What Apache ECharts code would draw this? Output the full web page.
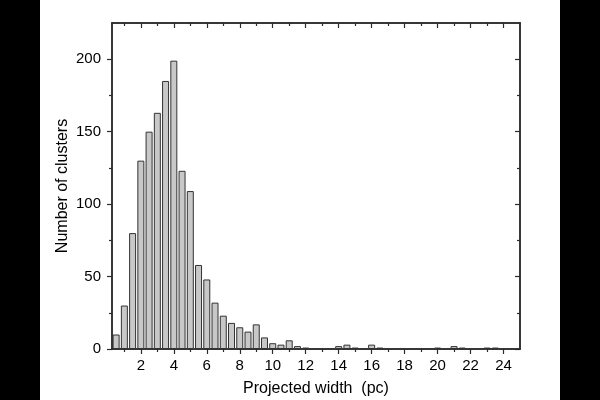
<!DOCTYPE html>
<html>
<head>
<meta charset="utf-8">
<style>
    body{
        margin:0;
        background:#000;
    }
    .widthChart{
        position:absolute;
        left:40px;
        top:0;
        width:520px;
        height:400px;
        background:#fff;
    }
</style>
<script src="https://cdn.jsdelivr.net/npm/echarts@6/dist/echarts.min.js"></script>
</head>
<body>
<div class="widthChart"></div>
<script>
// histogram bins (pc), bin width 0.5
const binCenters = [0.5, 1, 1.5, 2, 2.5, 3, 3.5, 4, 4.5, 5, 5.5, 6, 6.5, 7, 7.5, 8, 8.5, 9, 9.5, 10,
  10.5, 11, 11.5, 12, 14, 14.5, 15, 16, 16.5, 20, 21, 21.5, 23, 23.5]
const clusterCounts = [10, 30, 80, 130, 150, 163, 185, 199, 123, 109, 58, 48, 32, 23, 18, 15, 12, 17, 8, 4,
  3, 6, 2, 1, 2, 3, 1, 3, 1, 1, 2, 1, 1, 1]
const xMajor = [2, 4, 6, 8, 10, 12, 14, 16, 18, 20, 22, 24]
const xMinor = [1, 3, 5, 7, 9, 11, 13, 15, 17, 19, 21, 23]
const yMajor = [0, 50, 100, 150, 200]
const yMinor = [25, 75, 125, 175]

const lineColor = '#2b2b2b'
const font = '"Liberation Sans", Arial, sans-serif'

function xAx (pos, ticks, len, inside, withLabels) {
  return {
    type: 'value',
    position: pos,
    min: 0.25,
    max: 25,
    splitLine: { show: false },
    axisLine: { show: true, onZero: false, lineStyle: { color: lineColor, width: 1.5 } },
    axisTick: { show: true, inside: inside, length: len, customValues: ticks,
      lineStyle: { color: lineColor, width: 1.2 } },
    axisLabel: withLabels
      ? { show: true, customValues: ticks, margin: 9, color: '#000', fontSize: 15, fontFamily: font }
      : { show: false }
  }
}
function yAx (pos, ticks, len, inside, withLabels) {
  return {
    type: 'value',
    position: pos,
    min: 0,
    max: 225,
    splitLine: { show: false },
    axisLine: { show: true, onZero: false, lineStyle: { color: lineColor, width: 1.5 } },
    axisTick: { show: true, inside: inside, length: len, customValues: ticks,
      lineStyle: { color: lineColor, width: 1.2 } },
    axisLabel: withLabels
      ? { show: true, customValues: ticks, margin: 11, color: '#000', fontSize: 15, fontFamily: font }
      : { show: false }
  }
}

const xMain = xAx('bottom', xMajor, 5, false, true)
xMain.name = 'Projected width  (pc)'
xMain.nameLocation = 'middle'
xMain.nameGap = 32
xMain.nameMoveOverlap = false
xMain.nameTextStyle = { color: '#000', fontSize: 16, fontFamily: font }

const yMain = yAx('left', yMajor, 5, false, true)
yMain.name = 'Number of clusters'
yMain.nameLocation = 'middle'
yMain.nameGap = 41
yMain.nameMoveOverlap = false
yMain.nameTextStyle = { color: '#000', fontSize: 16, fontFamily: font }

const chart = echarts.init(document.getElementsByClassName('widthChart')[0])
chart.setOption({
  animation: false,
  grid: { left: 72, right: 40, top: 23, bottom: 51, outerBoundsMode: 'none' },
  xAxis: [
    xMain,
    xAx('bottom', xMinor, 3, false, false),
    xAx('top', xMajor, 5, true, false),
    xAx('top', xMinor, 3, true, false)
  ],
  yAxis: [
    yMain,
    yAx('left', yMinor, 3, false, false),
    yAx('right', yMajor, 5, true, false),
    yAx('right', yMinor, 3, true, false)
  ],
  series: [
    {
      type: 'bar',
      xAxisIndex: 0,
      yAxisIndex: 0,
      barWidth: 7,
      itemStyle: {
        color: '#c8c8c8',
        borderColor: '#333',
        borderWidth: 1
      },
      data: binCenters.map((c, i) => [c, clusterCounts[i]])
    }
  ]
})
</script>
</body>
</html>
